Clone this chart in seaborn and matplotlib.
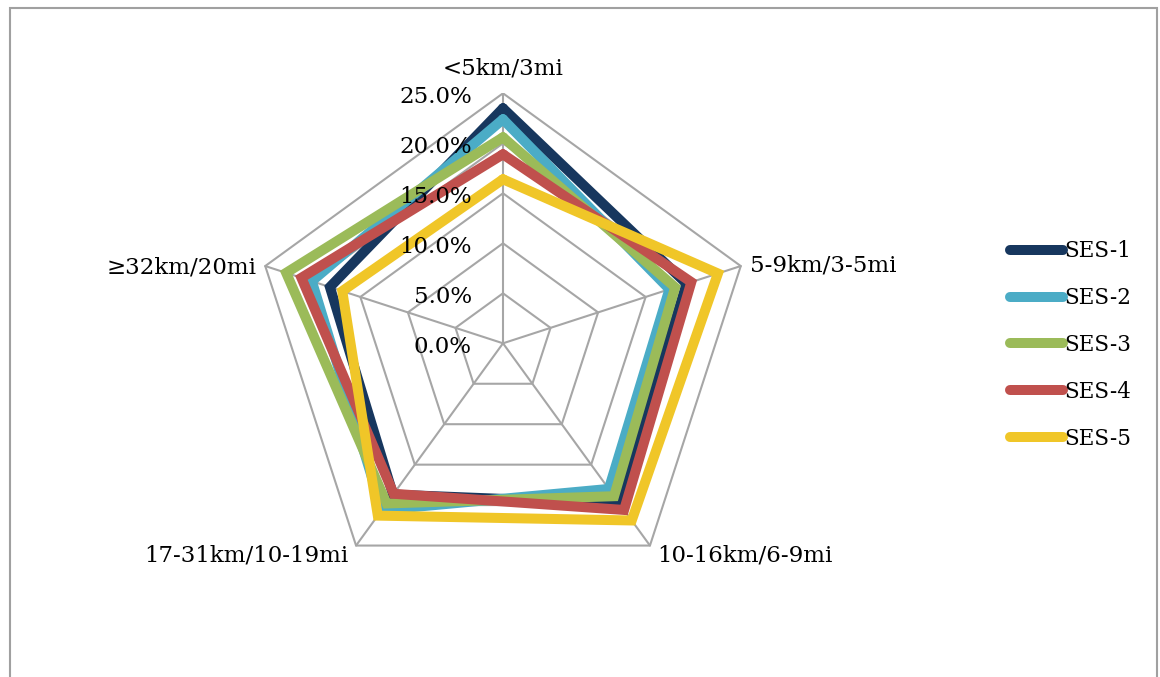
import numpy as np
import pandas as pd
import matplotlib.pyplot as plt
import seaborn as sns
from matplotlib.lines import Line2D
from matplotlib.patches import Rectangle

sns.set_style("white")
plt.rcParams['font.family'] = ['DejaVu Serif', 'DejaVu Sans']
plt.rcParams['text.color'] = 'black'

# 数据（各距离区间占比，%）
categories = ['<5km/3mi', '5-9km/3-5mi', '10-16km/6-9mi', '17-31km/10-19mi', '≥32km/20mi']
groups = ['SES-1', 'SES-2', 'SES-3', 'SES-4', 'SES-5']
ses1 = [23.5, 19.3, 19.8, 18.7, 18.2]
ses2 = [22.4, 17.5, 18.0, 20.6, 20.1]
ses3 = [20.6, 18.1, 18.9, 19.8, 22.8]
ses4 = [18.9, 19.8, 20.6, 18.6, 21.2]
ses5 = [16.4, 22.6, 21.9, 21.3, 16.9]
ring_ticks = [0, 5, 10, 15, 20, 25]
ring_labels = ['0.0%', '5.0%', '10.0%', '15.0%', '20.0%', '25.0%']
colors = ['#17375E', '#4BACC6', '#9BBB59', '#C0504D', '#F0C628']

# 角度：顶部开始，顺时针
n = len(categories)
angles = np.pi / 2 - np.arange(n) * 2 * np.pi / n


def to_xy(r, a):
    return r * np.cos(a), r * np.sin(a)


# 长表
rows = []
for g, vals in zip(groups, [ses1, ses2, ses3, ses4, ses5]):
    for i in list(range(n)) + [0]:
        x, y = to_xy(vals[i], angles[i])
        rows.append({'group': g, 'x': x, 'y': y})
df = pd.DataFrame(rows)

W, H = 1160, 677
fig = plt.figure(figsize=(W / 100, H / 100), dpi=100)
cx, cy, R = 503, 343.3, 250
ax = fig.add_axes([(cx - R) / W, (H - cy - R) / H, 2 * R / W, 2 * R / H])
ax.set_xlim(-25, 25)
ax.set_ylim(-25, 25)
ax.set_aspect('equal')
ax.axis('off')

# 网格：五边形环 + 辐射线
grid_c = '#A6A6A6'
for r in ring_ticks[1:]:
    xs, ys = to_xy(r, np.append(angles, angles[0]))
    ax.plot(xs, ys, color=grid_c, lw=1.5, zorder=1)
for a in angles:
    xs, ys = to_xy(np.array([0, 25]), a)
    ax.plot(xs, ys, color=grid_c, lw=1.5, zorder=1)

sns.lineplot(data=df, x='x', y='y', hue='group', palette=colors, sort=False,
             estimator=None, units='group', linewidth=7.2, legend=False, ax=ax, zorder=3)
for ln in ax.lines[-5:]:
    ln.set_solid_joinstyle('miter')
    ln.set_clip_on(False)
ax.set_xlabel('')
ax.set_ylabel('')

fs = 16.5
# 刻度标签
for r, lab in zip(ring_ticks, ring_labels):
    ax.text(-3.1, r - 0.35, lab, ha='right', va='center', fontsize=fs)

# 类别标签
vx, vy = to_xy(25, angles)
ax.annotate(categories[0], (vx[0], vy[0]), xytext=(0, 25), textcoords='offset pixels',
            ha='center', va='center', fontsize=fs)
ax.annotate(categories[1], (vx[1], vy[1]), xytext=(9, 1), textcoords='offset pixels',
            ha='left', va='center', fontsize=fs)
ax.annotate(categories[2], (vx[2], vy[2]), xytext=(7, -10), textcoords='offset pixels',
            ha='left', va='center', fontsize=fs)
ax.annotate(categories[3], (vx[3], vy[3]), xytext=(-8, -10), textcoords='offset pixels',
            ha='right', va='center', fontsize=fs)
ax.annotate(categories[4], (vx[4], vy[4]), xytext=(-9, -1), textcoords='offset pixels',
            ha='right', va='center', fontsize=fs)

# 图例
handles = [Line2D([0], [0], color=c, lw=7.2, solid_capstyle='round') for c in colors]
fig.legend(handles, groups, loc='center left', bbox_to_anchor=(1001 / W, 1 - 345 / H),
           frameon=False, fontsize=15.5, handlelength=2.5, handletextpad=0.05,
           labelspacing=1.15, borderaxespad=0)

# 外框
fig.patches.append(Rectangle((10 / W, -0.05), 1147 / W, 1.05 - 8 / H, transform=fig.transFigure,
                             fill=False, edgecolor='#A0A0A0', lw=1.5))

fig.savefig('out.png', dpi=100)
